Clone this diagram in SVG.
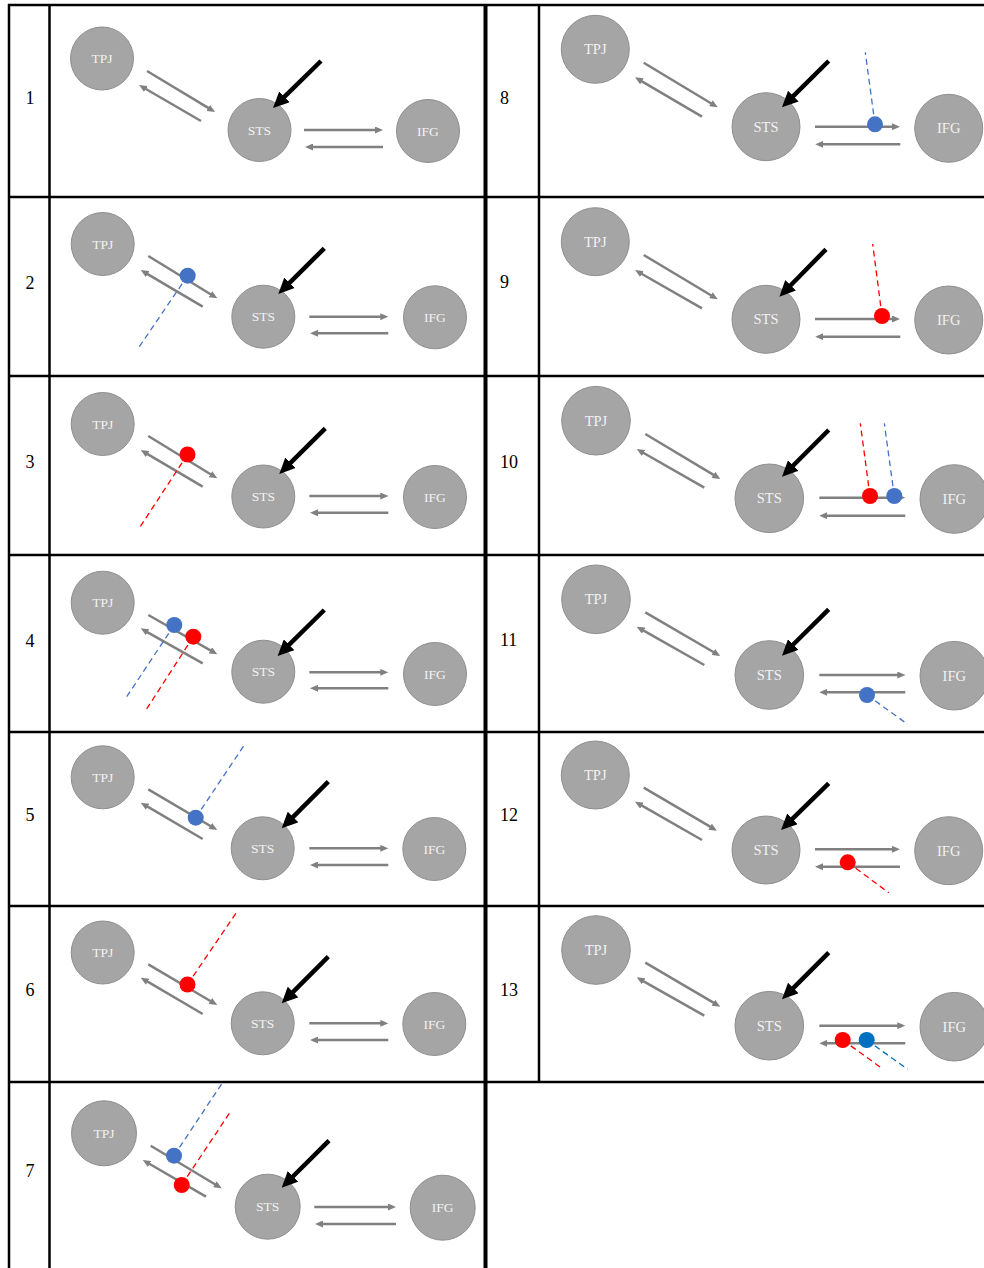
<svg xmlns="http://www.w3.org/2000/svg" width="984" height="1268" viewBox="0 0 984 1268">
<defs>
<style>
.grid line{stroke:#000;stroke-width:2.5}
.num{font-family:"Liberation Serif",serif;font-size:18px;fill:#000}
.node circle{fill:#a5a5a5;stroke:#8e8e8e;stroke-width:1}
.node text{font-family:"Liberation Serif",serif;font-size:13.5px;fill:#f2f2f2;text-anchor:middle}
.big text{font-size:14.5px}
.g{stroke:#808080;stroke-width:2.5;fill:none;marker-end:url(#ga)}
.k{stroke:#000;stroke-width:4.5;fill:none;marker-end:url(#ka)}
.db{stroke:#4472c4;stroke-width:1.3;stroke-dasharray:6 4;fill:none}
.dr{stroke:#ff0000;stroke-width:1.3;stroke-dasharray:6 4;fill:none}
.dc{stroke:#0070c0;stroke-width:1.3;stroke-dasharray:6 4;fill:none}
.bd{fill:#4472c4}
.rd{fill:#ff0000}
.cd{fill:#0070c0}
</style>
<marker id="ga" viewBox="0 0 8 7" markerWidth="8" markerHeight="7" refX="2" refY="3.5" orient="auto" markerUnits="userSpaceOnUse"><path d="M0,0 L8,3.5 L0,7 z" fill="#808080"/></marker>
<marker id="ka" viewBox="0 0 16 15" markerWidth="16" markerHeight="15" refX="3" refY="7.5" orient="auto" markerUnits="userSpaceOnUse"><path d="M0,0 L16,7.5 L0,15 z" fill="#000"/></marker>
</defs>
<rect x="0" y="0" width="984" height="1268" fill="#fff"/>

<g class="grid" id="table">
<line x1="8" y1="5" x2="984" y2="5"/>
<line x1="8" y1="197" x2="984" y2="197"/>
<line x1="8" y1="376" x2="984" y2="376"/>
<line x1="8" y1="555" x2="984" y2="555"/>
<line x1="8" y1="732" x2="984" y2="732"/>
<line x1="8" y1="906" x2="984" y2="906"/>
<line x1="8" y1="1082" x2="984" y2="1082"/>
<line x1="9" y1="4" x2="9" y2="1268"/>
<line x1="49.5" y1="4" x2="49.5" y2="1268"/>
<line x1="485.5" y1="4" x2="485.5" y2="1268" style="stroke-width:4"/>
<line x1="539" y1="4" x2="539" y2="1083"/>
</g>

<g id="row-labels" class="num">
<text x="30" y="104" text-anchor="middle">1</text>
<text x="30" y="288.5" text-anchor="middle">2</text>
<text x="30" y="467.5" text-anchor="middle">3</text>
<text x="30" y="646.5" text-anchor="middle">4</text>
<text x="30" y="821" text-anchor="middle">5</text>
<text x="30" y="996" text-anchor="middle">6</text>
<text x="30" y="1177" text-anchor="middle">7</text>
<text x="500" y="104">8</text>
<text x="500" y="288">9</text>
<text x="500" y="468">10</text>
<text x="500" y="646">11</text>
<text x="500" y="821">12</text>
<text x="500" y="996">13</text>
</g>

<g id="nodes">
<g id="p1-TPJ" class="node"><circle cx="102" cy="58.5" r="31.5"/><text x="102" y="63">TPJ</text></g>
<g id="p1-STS" class="node"><circle cx="259.5" cy="130" r="31.5"/><text x="259.5" y="134.5">STS</text></g>
<g id="p1-IFG" class="node"><circle cx="428" cy="131" r="31.5"/><text x="428" y="135.5">IFG</text></g>

<g id="p2-TPJ" class="node"><circle cx="102.7" cy="244" r="31.5"/><text x="102.7" y="248.5">TPJ</text></g>
<g id="p2-STS" class="node"><circle cx="263.3" cy="316.7" r="31.5"/><text x="263.3" y="321.2">STS</text></g>
<g id="p2-IFG" class="node"><circle cx="435" cy="317.3" r="31.5"/><text x="435" y="321.8">IFG</text></g>

<g id="p3-TPJ" class="node"><circle cx="102.7" cy="424" r="31.5"/><text x="102.7" y="428.5">TPJ</text></g>
<g id="p3-STS" class="node"><circle cx="263.3" cy="496.5" r="31.5"/><text x="263.3" y="501">STS</text></g>
<g id="p3-IFG" class="node"><circle cx="435" cy="497" r="31.5"/><text x="435" y="501.5">IFG</text></g>

<g id="p4-TPJ" class="node"><circle cx="102.7" cy="602.7" r="31.5"/><text x="102.7" y="607.2">TPJ</text></g>
<g id="p4-STS" class="node"><circle cx="263.3" cy="671.7" r="31.5"/><text x="263.3" y="676.2">STS</text></g>
<g id="p4-IFG" class="node"><circle cx="435" cy="674" r="31.5"/><text x="435" y="678.5">IFG</text></g>

<g id="p5-TPJ" class="node"><circle cx="102.7" cy="777.3" r="31.5"/><text x="102.7" y="781.8">TPJ</text></g>
<g id="p5-STS" class="node"><circle cx="262.7" cy="848.3" r="31.5"/><text x="262.7" y="852.8">STS</text></g>
<g id="p5-IFG" class="node"><circle cx="434.3" cy="849" r="31.5"/><text x="434.3" y="853.5">IFG</text></g>

<g id="p6-TPJ" class="node"><circle cx="102.7" cy="952.5" r="31.5"/><text x="102.7" y="957">TPJ</text></g>
<g id="p6-STS" class="node"><circle cx="262.7" cy="1023.3" r="31.5"/><text x="262.7" y="1027.8">STS</text></g>
<g id="p6-IFG" class="node"><circle cx="434.3" cy="1024" r="31.5"/><text x="434.3" y="1028.5">IFG</text></g>

<g id="p7-TPJ" class="node"><circle cx="104" cy="1133.3" r="32.5"/><text x="104" y="1137.8">TPJ</text></g>
<g id="p7-STS" class="node"><circle cx="267.7" cy="1206.7" r="32.5"/><text x="267.7" y="1211.2">STS</text></g>
<g id="p7-IFG" class="node"><circle cx="442.7" cy="1207.7" r="32.5"/><text x="442.7" y="1212.2">IFG</text></g>

<g id="p8-TPJ" class="node big"><circle cx="595.3" cy="49.3" r="34"/><text x="595.3" y="54.3">TPJ</text></g>
<g id="p8-STS" class="node big"><circle cx="766" cy="126.7" r="34"/><text x="766" y="131.7">STS</text></g>
<g id="p8-IFG" class="node big"><circle cx="948.7" cy="128.3" r="34"/><text x="948.7" y="133.3">IFG</text></g>

<g id="p9-TPJ" class="node big"><circle cx="595.3" cy="241.7" r="34"/><text x="595.3" y="246.7">TPJ</text></g>
<g id="p9-STS" class="node big"><circle cx="766" cy="319.3" r="34"/><text x="766" y="324.3">STS</text></g>
<g id="p9-IFG" class="node big"><circle cx="948.7" cy="320" r="34"/><text x="948.7" y="325">IFG</text></g>

<g id="p10-TPJ" class="node big"><circle cx="596" cy="420.7" r="34.3"/><text x="596" y="425.7">TPJ</text></g>
<g id="p10-STS" class="node big"><circle cx="769.3" cy="498.3" r="34.3"/><text x="769.3" y="503.3">STS</text></g>
<g id="p10-IFG" class="node big"><circle cx="954.3" cy="499" r="34.3"/><text x="954.3" y="504">IFG</text></g>

<g id="p11-TPJ" class="node big"><circle cx="596" cy="599.3" r="34.3"/><text x="596" y="604.3">TPJ</text></g>
<g id="p11-STS" class="node big"><circle cx="769.3" cy="675" r="34.3"/><text x="769.3" y="680">STS</text></g>
<g id="p11-IFG" class="node big"><circle cx="954.3" cy="675.7" r="34.3"/><text x="954.3" y="680.7">IFG</text></g>

<g id="p12-TPJ" class="node big"><circle cx="595.3" cy="775" r="34"/><text x="595.3" y="780">TPJ</text></g>
<g id="p12-STS" class="node big"><circle cx="766" cy="850" r="34"/><text x="766" y="855">STS</text></g>
<g id="p12-IFG" class="node big"><circle cx="948.7" cy="850.7" r="34"/><text x="948.7" y="855.7">IFG</text></g>

<g id="p13-TPJ" class="node big"><circle cx="596" cy="950" r="34.3"/><text x="596" y="955">TPJ</text></g>
<g id="p13-STS" class="node big"><circle cx="769.3" cy="1025.7" r="34.3"/><text x="769.3" y="1030.7">STS</text></g>
<g id="p13-IFG" class="node big"><circle cx="954.3" cy="1026.7" r="34.3"/><text x="954.3" y="1031.7">IFG</text></g>
</g>

<g id="connectors">
<line class="g" x1="147" y1="71" x2="209.9" y2="108.9"/>
<line class="g" x1="201" y1="121" x2="144.2" y2="88"/>
<line class="g" x1="304" y1="130" x2="377" y2="130"/>
<line class="g" x1="383" y1="147" x2="311" y2="147"/>
<line class="k" x1="321" y1="61" x2="282.3" y2="98.9"/>
<line class="g" x1="148.3" y1="256" x2="212.2" y2="295.2"/>
<line class="g" x1="202.7" y1="306.7" x2="145.9" y2="273.1"/>
<line class="g" x1="309.3" y1="316.7" x2="382.3" y2="316.7"/>
<line class="g" x1="388.3" y1="333.3" x2="316" y2="333.3"/>
<line class="k" x1="324.3" y1="248.3" x2="287.5" y2="284.8"/>
<line class="g" x1="148.3" y1="436" x2="212.2" y2="475.2"/>
<line class="g" x1="202.7" y1="486.7" x2="145.9" y2="453.1"/>
<line class="g" x1="309.3" y1="496" x2="382.3" y2="496"/>
<line class="g" x1="388.3" y1="512.8" x2="316" y2="512.8"/>
<line class="k" x1="325.3" y1="428.3" x2="288.5" y2="464.8"/>
<line class="g" x1="148.3" y1="615" x2="212.1" y2="651.3"/>
<line class="g" x1="202.7" y1="663.3" x2="145.9" y2="631.3"/>
<line class="g" x1="309.3" y1="672.3" x2="382.3" y2="672.3"/>
<line class="g" x1="388.3" y1="688.3" x2="316" y2="688.3"/>
<line class="k" x1="324.3" y1="610" x2="286.9" y2="646.9"/>
<line class="g" x1="148.3" y1="789.3" x2="212.1" y2="827"/>
<line class="g" x1="202.7" y1="839" x2="145.9" y2="805.7"/>
<line class="g" x1="309.3" y1="848.3" x2="382.3" y2="848.3"/>
<line class="g" x1="388.3" y1="865" x2="316" y2="865"/>
<line class="k" x1="328.3" y1="781.7" x2="290.9" y2="819.1"/>
<line class="g" x1="148.3" y1="964.3" x2="212.1" y2="1002"/>
<line class="g" x1="202.7" y1="1014" x2="145.9" y2="980.7"/>
<line class="g" x1="309.3" y1="1023.3" x2="382.3" y2="1023.3"/>
<line class="g" x1="388.3" y1="1040" x2="316" y2="1040"/>
<line class="k" x1="328.3" y1="956.7" x2="290.9" y2="994.1"/>
<line class="g" x1="150.7" y1="1145.7" x2="216.6" y2="1185.2"/>
<line class="g" x1="206" y1="1196.7" x2="147.9" y2="1163"/>
<line class="g" x1="314.3" y1="1207" x2="390" y2="1207"/>
<line class="g" x1="396" y1="1224" x2="321" y2="1224"/>
<line class="k" x1="329" y1="1140.7" x2="290.9" y2="1178.5"/>
<line class="g" x1="643.7" y1="62.7" x2="712.6" y2="104.2"/>
<line class="g" x1="702" y1="116.7" x2="640.2" y2="80.3"/>
<line class="g" x1="815" y1="126.7" x2="894" y2="126.7"/>
<line class="g" x1="900.3" y1="144.3" x2="821.3" y2="144.3"/>
<line class="k" x1="828.7" y1="61" x2="791.2" y2="98.2"/>
<line class="g" x1="643.7" y1="255" x2="712.6" y2="296.2"/>
<line class="g" x1="702" y1="308.3" x2="640.2" y2="273"/>
<line class="g" x1="815" y1="319" x2="894" y2="319"/>
<line class="g" x1="900.3" y1="336.7" x2="821.3" y2="336.7"/>
<line class="k" x1="826" y1="249.3" x2="788.5" y2="287.5"/>
<line class="g" x1="645.3" y1="434" x2="715.2" y2="475.9"/>
<line class="g" x1="704.3" y1="487.7" x2="641.9" y2="452"/>
<line class="g" x1="819.3" y1="497.7" x2="899.3" y2="497.7"/>
<line class="g" x1="905.3" y1="515.7" x2="825.3" y2="515.7"/>
<line class="k" x1="828.7" y1="430" x2="791.2" y2="467.5"/>
<line class="g" x1="645.3" y1="612.3" x2="715.1" y2="653"/>
<line class="g" x1="704.3" y1="665" x2="641.9" y2="629.7"/>
<line class="g" x1="819.3" y1="675" x2="899.3" y2="675"/>
<line class="g" x1="905.3" y1="692.3" x2="825.3" y2="692.3"/>
<line class="k" x1="828.7" y1="609.3" x2="791.2" y2="646.5"/>
<line class="g" x1="643.7" y1="787.7" x2="711.8" y2="827.7"/>
<line class="g" x1="702" y1="840" x2="640.2" y2="804.7"/>
<line class="g" x1="815" y1="849.3" x2="894" y2="849.3"/>
<line class="g" x1="900" y1="866.7" x2="821" y2="866.7"/>
<line class="k" x1="828.7" y1="783.3" x2="790.3" y2="820.9"/>
<line class="g" x1="645.3" y1="962.7" x2="715.1" y2="1003.7"/>
<line class="g" x1="704.3" y1="1015.7" x2="641.9" y2="980.3"/>
<line class="g" x1="819.3" y1="1025.7" x2="899.3" y2="1025.7"/>
<line class="g" x1="905.3" y1="1043.3" x2="825.3" y2="1043.3"/>
<line class="k" x1="828.7" y1="952.7" x2="791.2" y2="990.1"/>
</g>

<g id="probes">
<line class="db" x1="187.7" y1="275.7" x2="139.3" y2="346.7"/><circle class="bd" cx="187.7" cy="275.7" r="8"/>
<line class="dr" x1="187.5" y1="454.5" x2="140" y2="527"/><circle class="rd" cx="187.5" cy="454.5" r="8"/>
<line class="db" x1="174.3" y1="625" x2="126.7" y2="696.7"/><circle class="bd" cx="174.3" cy="625" r="8"/>
<line class="dr" x1="193.3" y1="636.7" x2="146" y2="710"/><circle class="rd" cx="193.3" cy="636.7" r="8"/>
<line class="db" x1="195.7" y1="817.7" x2="244.3" y2="745"/><circle class="bd" cx="195.7" cy="817.7" r="8"/>
<line class="dr" x1="187.5" y1="984.5" x2="237.5" y2="911"/><circle class="rd" cx="187.5" cy="984.5" r="8"/>
<line class="db" x1="174" y1="1155.7" x2="222.7" y2="1082.3"/><circle class="bd" cx="174" cy="1155.7" r="8"/>
<line class="dr" x1="181.7" y1="1185" x2="230" y2="1112.3"/><circle class="rd" cx="181.7" cy="1185" r="8"/>
<line class="db" x1="875" y1="124.3" x2="865.3" y2="52.3"/><circle class="bd" cx="875" cy="124.3" r="8"/>
<line class="dr" x1="882" y1="316" x2="872.7" y2="244"/><circle class="rd" cx="882" cy="316" r="8"/>
<line class="dr" x1="870" y1="496" x2="860.3" y2="423.3"/><circle class="rd" cx="870" cy="496" r="8"/>
<line class="db" x1="894.3" y1="496" x2="884.3" y2="423.3"/><circle class="bd" cx="894.3" cy="496" r="8"/>
<line class="db" x1="867" y1="695" x2="907.7" y2="724.3"/><circle class="bd" cx="867" cy="695" r="8"/>
<line class="dr" x1="847.7" y1="862.3" x2="888.7" y2="892.7"/><circle class="rd" cx="847.7" cy="862.3" r="8"/>
<line class="dr" x1="842.7" y1="1040" x2="883.3" y2="1069.3"/><circle class="rd" cx="842.7" cy="1040" r="8"/>
<line class="dc" x1="866.7" y1="1040" x2="907.7" y2="1069.3"/><circle class="cd" cx="866.7" cy="1040" r="8"/>
</g>
</svg>
